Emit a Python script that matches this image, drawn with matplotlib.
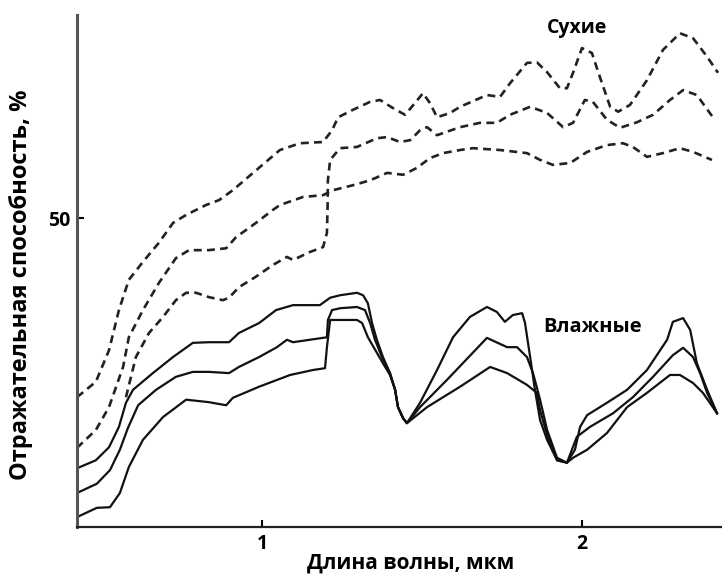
import numpy as np
import matplotlib.pyplot as plt

# wavelength (um) / reflectance (%)
# dry soils (dashed)
dry1_x = [0.422, 0.481, 0.522, 0.553, 0.584, 0.628, 0.678, 0.722, 0.763, 0.825,
          0.866, 0.909, 0.972, 1.056, 1.119, 1.191, 1.219, 1.238, 1.284, 1.338,
          1.369, 1.409, 1.447, 1.478, 1.503, 1.525, 1.547, 1.588, 1.619, 1.703,
          1.744, 1.775, 1.828, 1.859, 1.891, 1.931, 1.953, 1.972, 2.000, 2.031,
          2.056, 2.088, 2.113, 2.150, 2.203, 2.253, 2.306, 2.347, 2.391, 2.425]
dry1_y = [21.0, 23.5, 28.6, 35.1, 40.0, 42.9, 46.0, 49.2, 50.5, 52.1,
          52.9, 54.5, 57.3, 61.0, 62.1, 62.3, 64.2, 66.3, 67.5, 68.8,
          69.1, 67.8, 66.7, 68.6, 70.2, 68.6, 66.3, 67.0, 68.0, 69.9,
          69.6, 71.8, 75.1, 75.2, 73.6, 71.0, 71.0, 73.5, 77.5, 76.7,
          72.8, 68.0, 67.2, 68.3, 72.3, 77.2, 79.9, 79.1, 76.1, 73.5]

dry2_x = [0.422, 0.481, 0.522, 0.566, 0.584, 0.628, 0.678, 0.731, 0.772, 0.834,
          0.888, 0.919, 0.981, 1.034, 1.056, 1.128, 1.191, 1.222, 1.284, 1.338,
          1.391, 1.441, 1.484, 1.525, 1.566, 1.619, 1.659, 1.744, 1.828, 1.869,
          1.909, 1.963, 2.016, 2.078, 2.128, 2.159, 2.203, 2.253, 2.306, 2.347, 2.406]
dry2_y = [12.8, 15.7, 19.4, 25.9, 30.7, 35.1, 39.5, 43.5, 44.8, 44.8,
          45.1, 46.9, 49.2, 51.3, 52.1, 53.4, 53.7, 54.5, 55.3, 56.1,
          57.3, 57.0, 58.1, 59.7, 60.5, 61.0, 61.3, 61.0, 60.5, 59.4,
          58.6, 58.9, 60.7, 61.8, 62.1, 61.5, 59.9, 60.5, 61.3, 60.7, 59.4]

dry3_x = [0.575, 0.606, 0.647, 0.691, 0.731, 0.763, 0.794, 0.834, 0.878, 0.897,
          0.928, 0.981, 1.034, 1.078, 1.097, 1.150, 1.191, 1.203, 1.205, 1.206,
          1.213, 1.244, 1.297, 1.359, 1.391, 1.431, 1.463, 1.494, 1.516, 1.547,
          1.619, 1.681, 1.734, 1.775, 1.838, 1.891, 1.941, 1.972, 2.009, 2.034,
          2.078, 2.119, 2.172, 2.222, 2.275, 2.316, 2.359, 2.409]
dry3_y = [21.0, 27.5, 31.4, 34.0, 36.7, 37.9, 37.9, 37.2, 36.7, 37.1,
          38.8, 40.5, 42.4, 43.7, 43.2, 44.5, 45.3, 47.6, 51.8, 56.1,
          59.4, 61.3, 61.5, 62.9, 63.1, 62.3, 62.6, 64.2, 64.7, 63.4,
          64.7, 65.4, 65.4, 66.7, 68.0, 67.0, 64.7, 65.4, 69.1, 68.8,
          65.9, 64.6, 65.5, 66.7, 69.1, 70.7, 69.9, 66.3]

# wet soils (solid)
wet1_x = [0.422, 0.481, 0.522, 0.553, 0.575, 0.597, 0.659, 0.722, 0.784, 0.834,
          0.897, 0.928, 0.991, 1.044, 1.097, 1.181, 1.213, 1.244, 1.297, 1.316,
          1.331, 1.344, 1.359, 1.378, 1.400, 1.416, 1.425, 1.441, 1.453, 1.494,
          1.547, 1.597, 1.650, 1.703, 1.734, 1.759, 1.784, 1.813, 1.822, 1.838,
          1.853, 1.869, 1.891, 1.922, 1.953, 1.978, 1.994, 2.016, 2.078, 2.141,
          2.203, 2.266, 2.284, 2.316, 2.338, 2.359, 2.391, 2.422]
wet1_y = [9.5, 10.8, 12.9, 16.2, 20.1, 22.2, 24.9, 27.5, 29.8, 29.9,
          29.9, 31.4, 33.0, 35.1, 35.9, 35.9, 37.1, 37.5, 37.9, 37.5,
          36.2, 33.0, 30.3, 27.5, 24.9, 22.2, 19.4, 17.6, 16.8, 20.1,
          25.4, 30.7, 34.0, 35.6, 34.8, 33.2, 34.3, 34.6, 33.0, 27.5,
          22.2, 17.3, 14.1, 10.8, 10.4, 12.5, 16.2, 18.1, 20.1, 22.2,
          25.4, 30.3, 33.2, 33.8, 31.9, 26.5, 22.2, 18.4]

wet2_x = [0.422, 0.484, 0.525, 0.556, 0.581, 0.613, 0.669, 0.731, 0.784, 0.834,
          0.897, 0.928, 0.991, 1.047, 1.078, 1.097, 1.203, 1.206, 1.219, 1.244,
          1.297, 1.322, 1.338, 1.353, 1.375, 1.400, 1.416, 1.425, 1.441, 1.453,
          1.494, 1.578, 1.703, 1.766, 1.797, 1.828, 1.847, 1.869, 1.891, 1.922,
          1.953, 1.984, 2.025, 2.097, 2.159, 2.222, 2.284, 2.316, 2.347, 2.369,
          2.391, 2.422]
wet2_y = [5.5, 7.0, 9.2, 12.5, 16.0, 19.7, 22.2, 24.3, 25.1, 25.1,
          24.9, 25.9, 27.5, 29.1, 30.3, 29.9, 30.7, 33.5, 35.1, 35.4,
          35.6, 35.1, 33.0, 30.3, 27.5, 24.9, 22.2, 19.4, 17.6, 16.8,
          19.4, 23.8, 30.6, 29.1, 29.1, 27.5, 24.9, 20.6, 15.7, 11.2,
          10.4, 14.6, 16.2, 18.4, 21.0, 24.3, 27.8, 29.0, 27.5, 24.9,
          21.7, 18.4]

wet3_x = [0.422, 0.484, 0.525, 0.556, 0.584, 0.628, 0.691, 0.763, 0.834, 0.888,
          0.909, 0.991, 1.088, 1.159, 1.197, 1.203, 1.213, 1.244, 1.297, 1.313,
          1.331, 1.359, 1.378, 1.400, 1.416, 1.425, 1.441, 1.453, 1.516, 1.619,
          1.713, 1.766, 1.828, 1.859, 1.869, 1.891, 1.922, 1.953, 1.972, 2.016,
          2.078, 2.141, 2.203, 2.275, 2.306, 2.347, 2.378, 2.422]
wet3_y = [1.6, 3.1, 3.2, 5.5, 9.7, 14.1, 17.8, 20.6, 20.2, 19.7,
          20.9, 22.7, 24.6, 25.4, 25.7, 29.1, 33.5, 33.5, 33.5, 33.0,
          30.7, 28.2, 26.5, 24.6, 22.2, 19.4, 17.6, 16.8, 19.4, 22.7,
          25.9, 24.9, 23.0, 21.7, 18.9, 14.9, 10.8, 10.4, 11.2, 12.5,
          15.2, 19.4, 21.7, 24.6, 24.6, 23.3, 21.7, 18.4]

plt.rcParams['font.family'] = ['Open Sans', 'DejaVu Sans']

fig = plt.figure(figsize=(7.22, 5.75), dpi=100)
ax = fig.add_axes([0.1066, 0.0835, 0.8934, 0.8904])

for xs, ys in [(dry1_x, dry1_y), (dry2_x, dry2_y), (dry3_x, dry3_y)]:
    ax.plot(xs, ys, color='#222222', lw=1.9, linestyle=(0, (3, 2)),
            solid_joinstyle='round')
for xs, ys in [(wet1_x, wet1_y), (wet2_x, wet2_y), (wet3_x, wet3_y)]:
    ax.plot(xs, ys, color='#111111', lw=1.6, solid_joinstyle='round')

ax.set_xlim(0.4219, 2.4375)
ax.set_ylim(0, 82.85)
ax.set_xticks([1, 2])
ax.set_yticks([50])
ax.tick_params(direction='in', length=5, width=1.5, labelsize=14, pad=5)
for lab in ax.get_xticklabels() + ax.get_yticklabels():
    lab.set_fontweight('bold')

for s in ['top', 'right']:
    ax.spines[s].set_visible(False)
ax.spines['left'].set_color('#555555')
ax.spines['left'].set_linewidth(2.2)
ax.spines['bottom'].set_color('#222222')
ax.spines['bottom'].set_linewidth(1.6)

ax.set_xlabel('Длина волны, мкм', fontsize=15, fontweight='bold', va='center')
ax.xaxis.set_label_coords(0.518, -0.0703)
ax.set_ylabel('Отражательная способность, %', fontsize=17, fontweight='bold', va='center')
ax.yaxis.set_label_coords(-0.0868, 0.4736)

ax.text(1.984, 80.7, 'Сухие', fontsize=14, fontweight='bold', ha='center', va='center')
ax.text(2.034, 32.4, 'Влажные', fontsize=14.5, fontweight='bold', ha='center', va='center')

fig.savefig('out.png', dpi=100)
